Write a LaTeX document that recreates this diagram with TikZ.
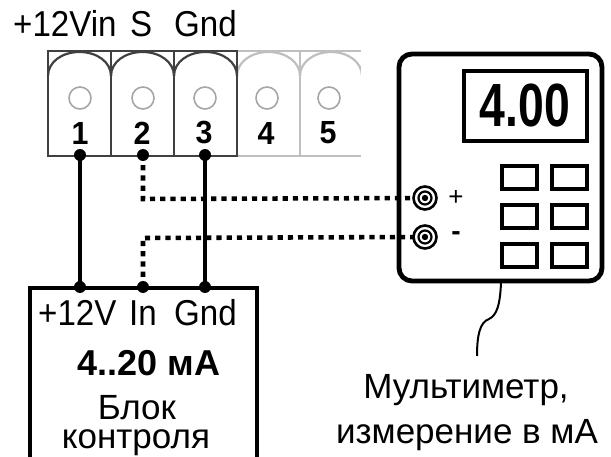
\documentclass[tikz,border=0pt]{standalone}
\usepackage{fontspec}
\setmainfont{Liberation Sans}
\usetikzlibrary{calc}
\tikzset{
	wire/.style={line width=1.7mm},
	signal/.style={line width=1.6mm, dash pattern=on 5.2pt off 5pt},
	cell/.style={line width=2.2pt, color=black!75},
	fadecell/.style={line width=2.2pt, color=black!25},
	hole/.style={line width=1.6pt, color=black!35},
	btn/.style={line width=4.4pt},
	lbl/.style={font=\fontsize{36}{36}\selectfont, inner sep=0pt, xscale=0.92},
	note/.style={font=\fontsize{35}{35}\selectfont, inner sep=0pt},
	num/.style={font=\fontsize{32}{32}\selectfont\bfseries, inner sep=0pt, xscale=0.95}
}
\def\termcell[#1](#2:#3){\draw[#1] (#2, 51) rectangle (#3, 156);
	\draw[#1] (#2, 76) .. controls (#2, 62) and ({#2+14}, 52) .. ({(#2+#3)/2}, 52) .. controls ({#3-14}, 52) and (#3, 62) .. (#3, 76);}
\def\jack(#1){\draw[line width=2.6pt] (#1) circle (11.5);
	\draw[line width=2.2pt] (#1) circle (6.5);
	\fill (#1) circle (3.2);}
\begin{document}
\begin{tikzpicture}[x=1pt, y=-1pt]
		%%%%% START %%%%%
		\useasboundingbox (0, 0) rectangle (611, 457);
		
		% terminal block
		\termcell[fadecell](237:300)
		\termcell[fadecell](300:362)
		\termcell[cell](48:111)
		\termcell[cell](111:174)
		\termcell[cell](174:237)
		\fill[white] (361, 45) rectangle (370, 160);
		
		\draw[hole] (80, 98) circle (11);
		\draw[hole] (143, 98) circle (11);
		\draw[hole] (205, 98) circle (11);
		\draw[hole] (267, 98) circle (11);
		\draw[hole] (329, 98) circle (11);
		
		\node[num] (n1) at (80, 133) {1};
		\node[num] (n2) at (142, 133) {2};
		\node[num] (n3) at (204, 133) {3};
		\node[num] (n4) at (266, 133) {4};
		\node[num] (n5) at (328, 133) {5};
		
		\node[lbl, anchor=base west] (topvin) at (13, 37) {+12Vin};
		\node[lbl, anchor=base west] (tops) at (130, 37) {S};
		\node[lbl, anchor=base west] (topgnd) at (174, 37) {Gnd};
		
		% control box, cut off by the bottom edge
		\draw[line width=1.7mm] (30, 457) -- (30, 288) -- (257, 288) -- (257, 457);
		
		\node[lbl, anchor=base west] (boxv) at (38, 326) {+12V};
		\node[lbl, anchor=base west] (boxin) at (129, 326) {In};
		\node[lbl, anchor=base west] (boxgnd) at (174, 326) {Gnd};
		\node[inner sep=0pt, anchor=base, font=\fontsize{36}{36}\selectfont\bfseries] (boxmain) at (149, 375) {4..20 мА};
		\node[note, anchor=base] (boxa) at (137, 419) {Блок};
		\node[note, anchor=base] (boxb) at (136, 448) {контроля};
		
		% meter
		\draw[line width=1.7mm, rounded corners=13pt] (399, 54) rectangle (602, 281);
		\draw[line width=1.6mm] (464, 71) rectangle (587, 141);
		\node[inner sep=0pt, xscale=0.76, font=\fontsize{61}{61}\selectfont\bfseries] (display) at (525, 106) {4.00};
		
		\draw[btn] (502, 166) rectangle (537, 189);
		\draw[btn] (552, 166) rectangle (587, 189);
		\draw[btn] (502, 205) rectangle (537, 228);
		\draw[btn] (552, 205) rectangle (587, 228);
		\draw[btn] (502, 244) rectangle (537, 267);
		\draw[btn] (552, 244) rectangle (587, 267);
		
		\node[inner sep=0pt, font=\fontsize{26}{26}\selectfont] (plus) at (456, 198) {+};
		\node[inner sep=0pt, font=\fontsize{28}{28}\selectfont\bfseries] (minus) at (456, 236) {-};
		
		% wiring
		\coordinate (pad1) at (80, 155);
		\coordinate (pad2) at (143, 155);
		\coordinate (pad3) at (205, 155);
		\coordinate (ctl1) at (80, 287);
		\coordinate (ctl2) at (143, 287);
		\coordinate (ctl3) at (205, 287);
		\coordinate (jackp) at (425, 198);
		\coordinate (jackm) at (425, 237);
		
		\draw[wire] (pad1) -- (ctl1);
		\draw[wire] (pad3) -- (ctl3);
		\draw[signal] (pad2) -- (143, 199) -- (jackp);
		\draw[signal] (ctl2) -- (143, 238) -- (jackm);
		
		\fill (pad1) circle (6);
		\fill (pad2) circle (6);
		\fill (pad3) circle (6);
		\fill (ctl1) circle (6);
		\fill (ctl2) circle (6);
		\fill (ctl3) circle (6);
		
		\fill[white] (jackp) circle (12);
		\fill[white] (jackm) circle (12);
		\jack(jackp)
		\jack(jackm)
		
		% callout
		\coordinate (meterlow) at (501, 283);
		\coordinate (notefoot) at (477, 356);
		\draw[line width=2pt] (meterlow) .. controls (500, 305) and (497, 315) .. (489, 319) .. controls (480, 322) and (477, 335) .. (notefoot);
		
		\node[note, anchor=base] (notea) at (466, 398) {Мультиметр,};
		\node[note, anchor=base] (noteb) at (467, 443) {измерение в мА};
		
		%%%%% END %%%%%
	\end{tikzpicture}
\end{document}
